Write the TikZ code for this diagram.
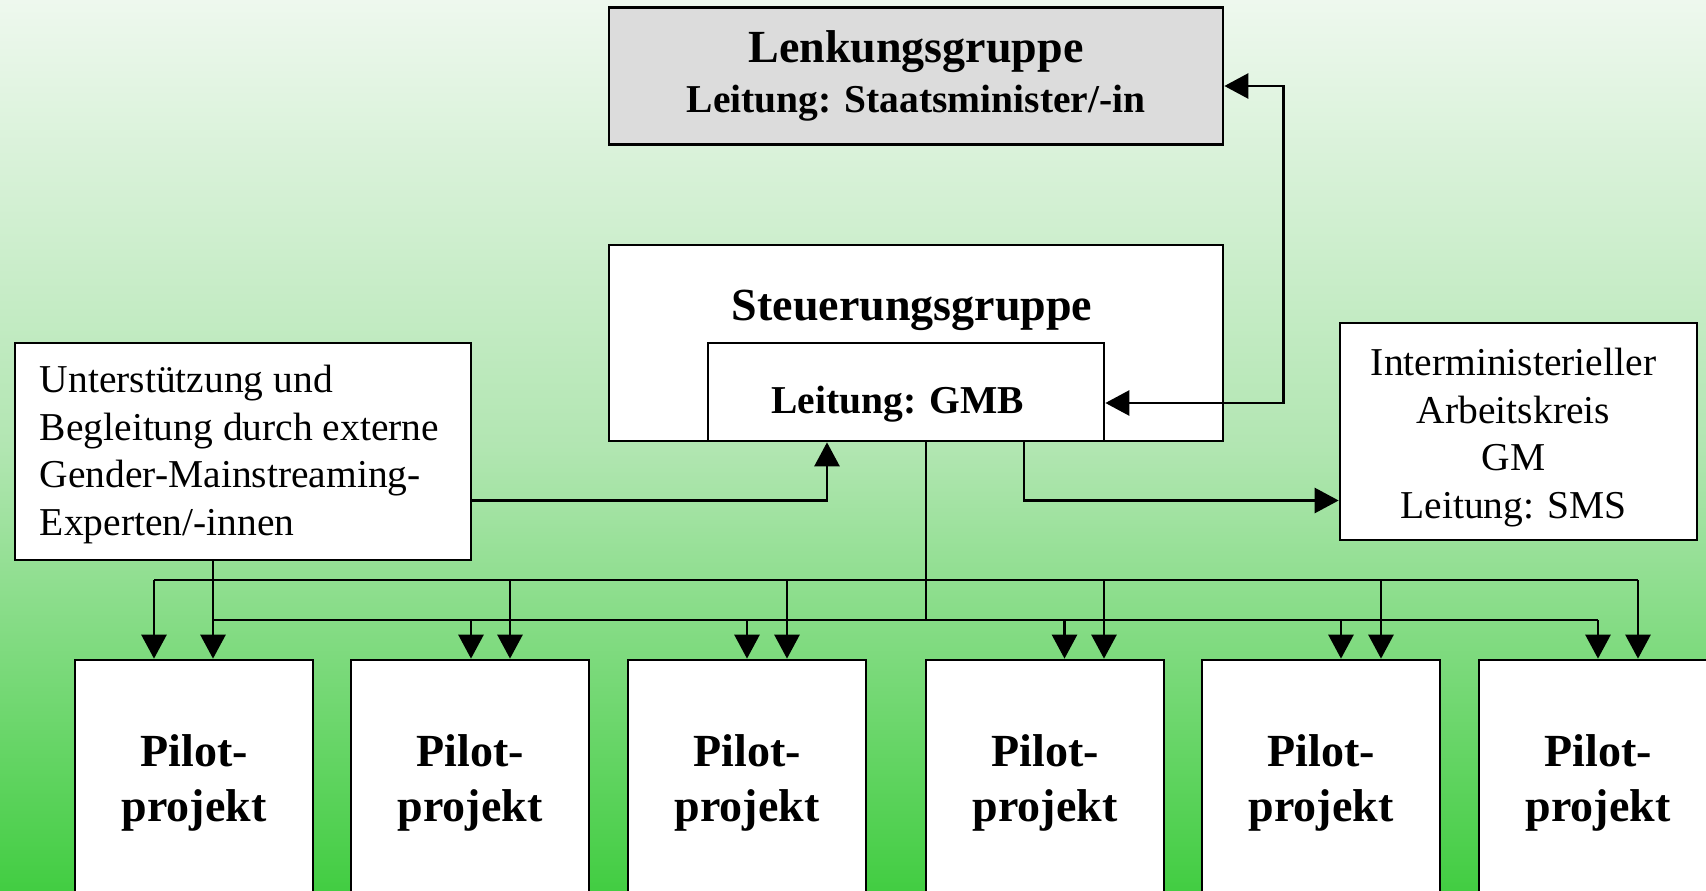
\documentclass[tikz,border=0pt]{standalone}
\usepackage{fontspec}
\setmainfont{Liberation Serif}
\usetikzlibrary{arrows.meta,positioning}
\definecolor{hgoben}{RGB}{238,248,238}
\definecolor{hgmitte}{RGB}{178,230,178}
\definecolor{hgunten}{RGB}{66,205,66}
\definecolor{lenkgrau}{RGB}{220,220,220}
\newcommand{\titelfont}{\fontsize{46}{55}\selectfont\bfseries}
\newcommand{\leitfont}{\fontsize{39.5}{47.6}\selectfont}
\tikzset{
  basic/.style   = {draw, line width=2.7pt, rectangle, fill=white, inner sep=0pt},
  lenkung/.style = {basic, fill=lenkgrau, align=center},
  gruppe/.style  = {basic},
  neben/.style   = {basic, font=\leitfont},
  pilot/.style   = {basic, minimum width=238pt, minimum height=246pt,
                    align=center, font=\titelfont},
  verb/.style    = {line width=2.7pt},
  pfeil/.style   = {verb, -{Triangle[length=24pt,width=25pt]}},
  doppelpfeil/.style = {verb, {Triangle[length=24pt,width=25pt]}-{Triangle[length=24pt,width=25pt]}}
}

\begin{document}
\begin{tikzpicture}[x=1pt, y=-1pt]

% Hintergrund
\useasboundingbox (0,0) rectangle (1706,891);
\fill[top color=hgoben, bottom color=hgunten, middle color=hgmitte] (0,0) rectangle (1706,891);

% Gremien oben
\node[lenkung, minimum width=614pt, minimum height=137pt] (lenk) at (916,76)
  {{\titelfont Lenkungsgruppe}\\[11.5pt]{\leitfont\bfseries Leitung: Staatsminister/-in}};
\node[gruppe, minimum width=614pt, minimum height=196pt,
      label={[name=steuertitel, font=\titelfont, xshift=-4pt, yshift=32.5pt]center:Steuerungsgruppe}]
  (steuer) at (916,343) {};
\node[gruppe, minimum width=396pt, minimum height=98pt,
      label={[name=gmbtitel, font=\leitfont\bfseries, xshift=-8.5pt, yshift=-12pt]center:{Leitung: GMB}}]
  (gmb) at (906,392) {};

% Nebengremien links und rechts
\node[neben, minimum width=456pt, minimum height=217pt,
      label={[name=externtext, font=\leitfont, align=left, xshift=-3.5pt, yshift=-3pt]center:{Unterstützung und\\Begleitung durch externe\\Gender-Mainstreaming-\\Experten/-innen}}]
  (extern) at (243,451.5) {};
\node[neben, minimum width=357pt, minimum height=217pt,
      label={[name=imaktext, font=\leitfont, align=center, xshift=-5pt, yshift=-6pt]center:{Interministerieller\\Arbeitskreis\\GM\\Leitung: SMS}}]
  (imak) at (1518.5,431.5) {};

% Pilotprojekte
\foreach \i/\x in {1/194, 2/470, 3/747, 4/1045, 5/1321, 6/1598}
  \node[pilot] (p\i) at (\x,783) {Pilot-\\projekt};

% Verbindungen zwischen den Gremien
\draw[doppelpfeil] ([yshift=-10pt]lenk.east) -- ++(59,0) |- ([yshift=-11pt]gmb.east);
\draw[pfeil] ([yshift=-49pt]extern.east) -| ([xshift=-89pt]steuer.south);
\draw[pfeil] ([xshift=118pt]gmb.south) |- ([yshift=-69pt]imak.west);

% Verteiler zu den Pilotprojekten
\coordinate (oben) at (0,580);
\coordinate (unten) at (0,620);
\draw[verb] ([xshift=20pt]gmb.south) -- ([xshift=20pt]gmb.south |- unten);
\draw[verb] ([xshift=-40pt]p1.north |- oben) -- ([xshift=40pt]p6.north |- oben);
\draw[verb] ([xshift=19pt]p1.north |- unten) -- (p6.north |- unten);
\draw[pfeil] ([xshift=-30pt]extern.south) -- ([xshift=19pt]p1.north);
\foreach \i/\a in {1/-40, 2/40, 3/40, 4/59, 5/60, 6/40}
  \draw[pfeil] ([xshift=\a pt]p\i.north |- oben) -- ([xshift=\a pt]p\i.north);
\foreach \i/\b in {2/1, 3/0, 4/19.5, 5/20, 6/0}
  \draw[pfeil] ([xshift=\b pt]p\i.north |- unten) -- ([xshift=\b pt]p\i.north);
\end{tikzpicture}
\end{document}
